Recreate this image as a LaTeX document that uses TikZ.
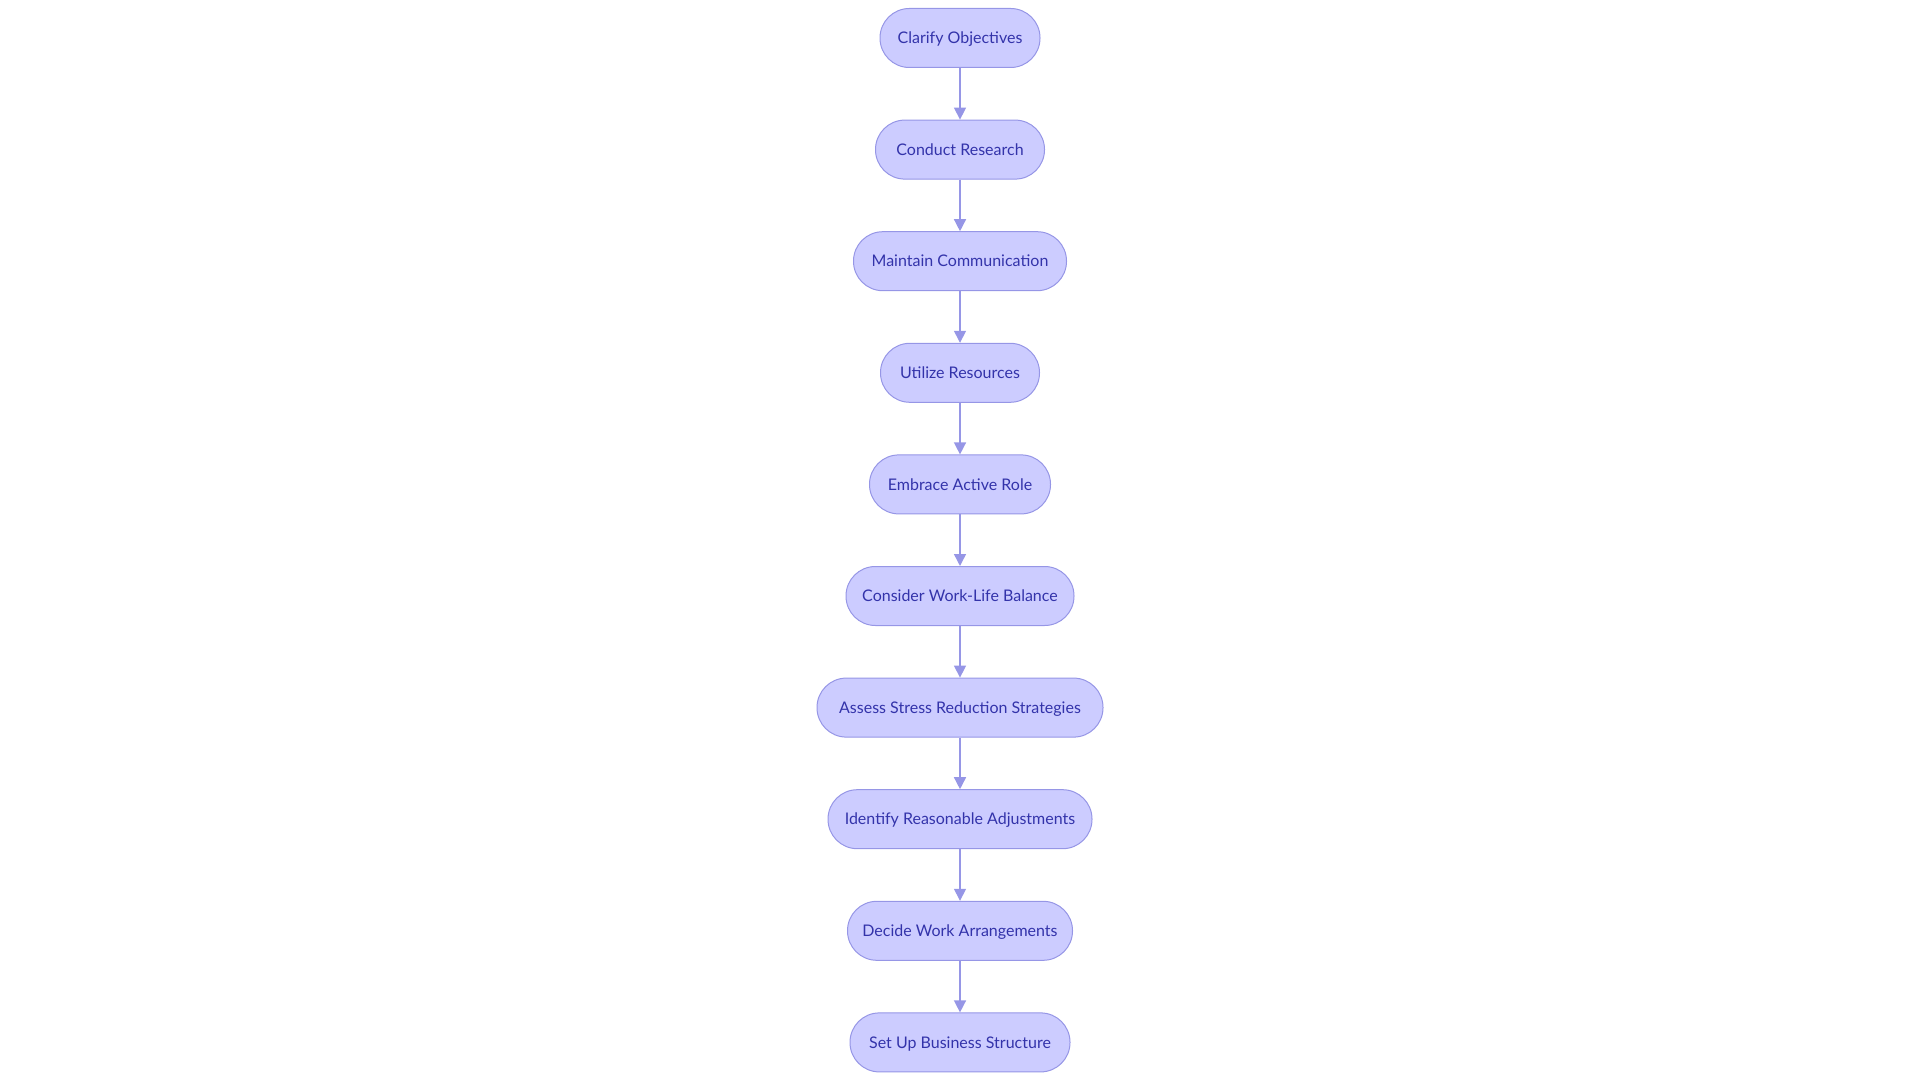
\documentclass[tikz,border=0pt]{standalone}
\usepackage{fontspec}
\setmainfont{Lato}
\usetikzlibrary{positioning,arrows.meta}
\definecolor{stepfill}{RGB}{204,204,255}
\definecolor{stepline}{RGB}{150,150,230}
\definecolor{steptext}{RGB}{51,51,170}
\tikzset{
    stepbox/.style = {draw = stepline, fill = stepfill, text = steptext, line width = 0.75pt,
        rounded corners = 22pt, minimum height = 44.25pt, inner sep = 0pt,
        text height = 8.6pt, text depth = 0pt, font = \fontsize{12}{14}\selectfont},
    flowarrow/.style = {draw = stepline, line width = 1.1pt, -{Triangle[length = 9pt, width = 9pt]}}
}
\begin{document}
\begin{tikzpicture}[x = 0.75pt, y = 0.75pt, node distance = 38.7pt]
        \useasboundingbox (0,0) rectangle (1920,-1080);
        \node[stepbox, minimum width = 120pt] (objectives) at (960,-38) {Clarify Objectives};
        \node[stepbox, minimum width = 126.75pt, below = of objectives] (research) {Conduct Research};
        \node[stepbox, minimum width = 159.75pt, below = of research] (communication) {Maintain Communication};
        \node[stepbox, minimum width = 119.25pt, below = of communication] (resources) {Utilize Resources};
        \node[stepbox, minimum width = 135.75pt, below = of resources] (role) {Embrace Active Role};
        \node[stepbox, minimum width = 171pt, below = of role] (balance) {Consider Work-Life Balance};
        \node[stepbox, minimum width = 214.5pt, below = of balance] (stress) {Assess Stress Reduction Strategies};
        \node[stepbox, minimum width = 198pt, below = of stress] (adjustments) {Identify Reasonable Adjustments};
        \node[stepbox, minimum width = 168.75pt, below = of adjustments] (arrangements) {Decide Work Arrangements};
        \node[stepbox, minimum width = 165pt, below = of arrangements] (structure) {Set Up Business Structure};
        \foreach \a/\b in {objectives/research, research/communication, communication/resources,
                resources/role, role/balance, balance/stress, stress/adjustments,
                adjustments/arrangements, arrangements/structure}
            \draw[flowarrow] (\a) -- (\b);
    \end{tikzpicture}
\end{document}
